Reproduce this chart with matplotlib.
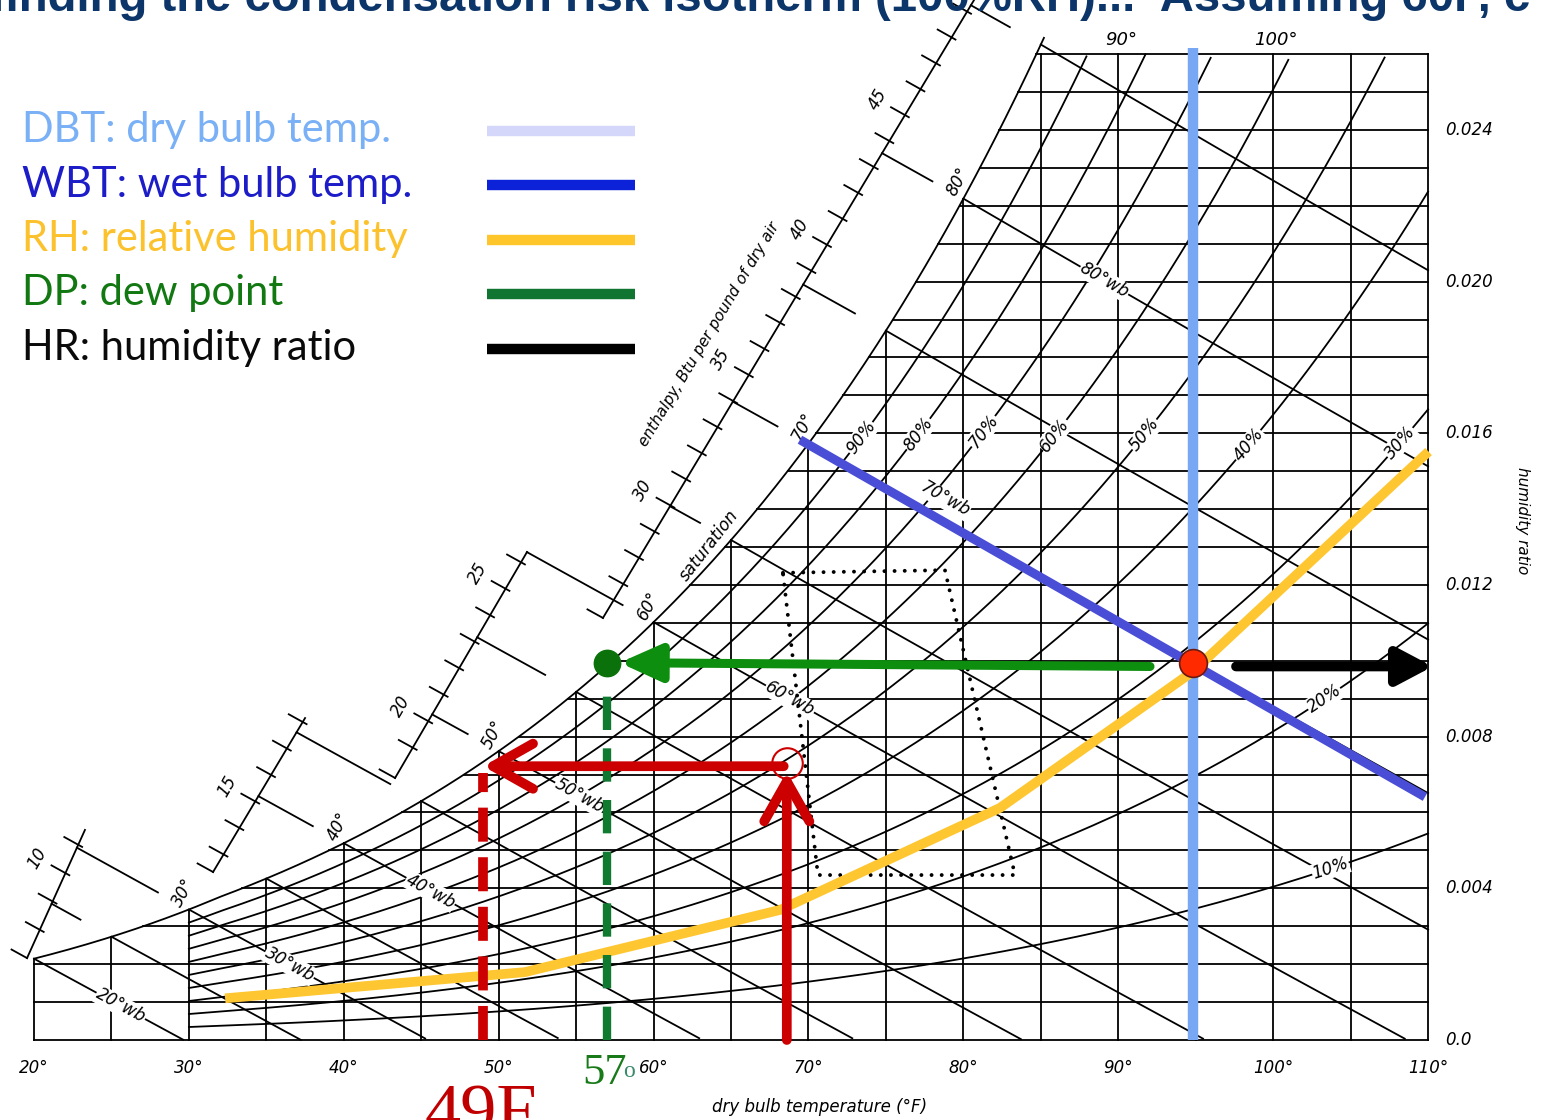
import numpy as np
import matplotlib
matplotlib.use("Agg")
import matplotlib.pyplot as plt
from matplotlib.lines import Line2D

# ---------------- chart grid (dry bulb degF, humidity ratio lb/lb) ----------------
dbt_lines = [20, 25, 30, 35, 40, 45, 50, 55, 60, 65, 70, 75, 80, 85, 90, 95, 100, 105, 110]
hr_lines = [0.001, 0.002, 0.003, 0.004, 0.005, 0.006, 0.007, 0.008, 0.009, 0.010,
            0.011, 0.012, 0.013, 0.014, 0.015, 0.016, 0.017, 0.018, 0.019, 0.020,
            0.021, 0.022, 0.023, 0.024, 0.025, 0.026]
wb_lines = [20, 25, 30, 35, 40, 45, 50, 55, 60, 65, 70, 75, 80, 85]
rh_lines = [0.1, 0.2, 0.3, 0.4, 0.5, 0.6, 0.7, 0.8, 0.9]

dbt_tick_vals = [20, 30, 40, 50, 60, 70, 80, 90, 100, 110]
hr_tick_vals = [0.024, 0.020, 0.016, 0.012, 0.008, 0.004, 0.0]
hr_tick_text = ["0.024", "0.020", "0.016", "0.012", "0.008", "0.004", "0.0"]

sat_labels = [30, 40, 50, 60, 70, 80]
top_labels = [90, 100]
wb_label_vals = [20, 30, 40, 50, 60, 70, 80]
wb_label_dbt = [25.6, 36.5, 45.6, 55.2, 68.8, 78.8, 89.1]
wb_label_lift = [0, 0, 0, 0, 0, 16, 0]          # points, 70°wb sits above the blue line
rh_label_vals = [90, 80, 70, 60, 50, 40, 30, 20, 10]
rh_label_dbt = [73.4, 77.1, 81.3, 85.9, 91.7, 98.4, 108.2, 103.3, 103.7]

enthalpy_ticks = list(range(6, 53))
enthalpy_labels = [10, 15, 20, 25, 30, 35, 40, 45]
# enthalpy scale is drawn in four broken pieces: (dbt, hr) at both ends
scale_T = [(19.55, 23.29), (31.56, 37.50), (43.31, 51.83), (56.73, 81.46)]
scale_W = [(0.00216, 0.00554), (0.00443, 0.00849), (0.00691, 0.01287), (0.01113, 0.02795)]

# ---------------- overlay ----------------
state_dbt = 94.8
state_hr = 0.00995
dew_point = 57
wbt_T = [69.45, 109.8]
wbt_W = [0.01583, 0.00641]
rh_T = [32.65, 51.7, 68.16, 82.36, 94.76, 109.8]
rh_W = [0.00111, 0.00179, 0.00343, 0.00612, 0.0097, 0.01543]
comfort_T = [68.35, 78.81, 83.33, 70.61, 68.35]
comfort_W = [0.01232, 0.01239, 0.00435, 0.00435, 0.01232]
surf_dbt = 68.6
surf_hr = 0.0073
surf_dew = 49

legend_items = ["DBT: dry bulb temp.", "WBT: wet bulb temp.", "RH: relative humidity",
                "DP: dew point", "HR: humidity ratio"]
legend_text_col = ["#7ab0f5", "#1c1cc8", "#fcc22d", "#127812", "#0a0a0a"]
legend_line_col = ["#d5d7fa", "#0b22d8", "#ffc62c", "#0f7530", "#000000"]

P_ATM = 101.325


def p_sat(t):
    tc = (np.asarray(t, dtype=float) - 32) / 1.8
    water = 0.61094 * np.exp(17.625 * tc / (tc + 243.04))
    ice = 0.61115 * np.exp(22.452 * tc / (272.55 + tc))
    return np.where(tc < 0, ice, water)


def w_sat(t, rh=1.0):
    ps = rh * p_sat(t)
    return 0.622 * ps / (P_ATM - ps)


def w_wb(t, twb):
    ws = w_sat(twb)
    return ((1093 - 0.556 * twb) * ws - 0.240 * (t - twb)) / (1093 + 0.444 * t - twb)


def w_enth(t, h):
    return (h - 0.240 * t) / (1061 + 0.444 * t)


def h_sat(t):
    return 0.240 * t + w_sat(t) * (1061 + 0.444 * t)


fig = plt.figure(figsize=(15.52, 11.2), dpi=100)
ax = fig.add_axes([0, 0, 1, 1])
ax.set_xlim(17.805, 118.0)
ax.set_ylim(-0.00211, 0.027426)
ax.axis("off")

LW = 1.3
K = "black"
hand = dict(family="DejaVu Sans", style="italic", color="black")
W_TOP = 0.026

tt = np.linspace(20, 110, 1000)
ws_tt = w_sat(tt)

# saturation curve
ts = np.linspace(20, 85.2, 400)
ax.plot(ts, w_sat(ts), color=K, lw=LW)

# dry bulb verticals
for t in dbt_lines:
    ax.plot([t, t], [0, min(float(w_sat(t)), W_TOP)], color=K, lw=LW)

# humidity ratio horizontals
ax.plot([20, 110], [0, 0], color=K, lw=LW)
for w in hr_lines:
    t0 = max(20.0, float(np.interp(w, ws_tt, tt)))
    ax.plot([t0, 110], [w, w], color=K, lw=LW)

# wet bulb lines
for twb in wb_lines:
    t = np.linspace(twb, 110, 300)
    w = w_wb(t, twb)
    ok = w >= 0
    ax.plot(t[ok], w[ok], color=K, lw=LW)

# relative humidity curves
for rh in rh_lines:
    t = np.linspace(30, 110, 400)
    w = w_sat(t, rh)
    ok = w <= W_TOP
    ax.plot(t[ok], w[ok], color=K, lw=LW)


# enthalpy scale
def scale_point(h, k):
    s = np.linspace(0, 1, 600)
    T = scale_T[k][0] + s * (scale_T[k][1] - scale_T[k][0])
    W = scale_W[k][0] + s * (scale_W[k][1] - scale_W[k][0])
    f = W - w_enth(T, h)
    idx = np.where(np.diff(np.sign(f)) != 0)[0]
    if len(idx) == 0:
        return None
    i = idx[0]
    s0 = s[i] - f[i] * (s[i + 1] - s[i]) / (f[i + 1] - f[i])
    return scale_T[k][0] + s0 * (scale_T[k][1] - scale_T[k][0])


for k in range(len(scale_T)):
    ax.plot(scale_T[k], scale_W[k], color=K, lw=LW, clip_on=False)
    # little foot at the lower end of each piece
    t_end, w_end = scale_T[k][0], scale_W[k][0]
    h_end = 0.240 * t_end + w_end * (1061 + 0.444 * t_end)
    tf = np.array([t_end - 1.0, t_end])
    ax.plot(tf, w_enth(tf, h_end), color=K, lw=LW)
    for h in enthalpy_ticks:
        ti = scale_point(h, k)
        if ti is None or ti - t_end < 0.6:
            continue
        tk = np.array([ti - 0.9, ti + 0.25])
        ax.plot(tk, w_enth(tk, h), color=K, lw=LW)
        if h in enthalpy_labels:
            ax.annotate(str(h), (ti, float(w_enth(ti, h))), xytext=(-20, 11),
                        textcoords="offset points", rotation=60, ha="center",
                        va="center", fontsize=12, **hand)
    # long guide lines: wet bulb lines carried out to the scale
    for twb in wb_lines:
        h = float(h_sat(twb))
        ti = scale_point(h, k)
        if ti is None or ti > twb - 2.8:
            continue
        tg = np.linspace(ti, twb - 2.0, 20)
        ax.plot(tg, w_enth(tg, h), color=K, lw=LW)


def screen_angle(t0, w0, t1, w1):
    (x0, y0), (x1, y1) = ax.transData.transform([(t0, w0), (t1, w1)])
    return np.degrees(np.arctan2(y1 - y0, x1 - x0))


# labels on the chart
for t in dbt_tick_vals:
    ax.annotate(f"{t}°", (t, 0), xytext=(0, -20), textcoords="offset points",
                ha="center", va="center", fontsize=12, **hand)
ax.annotate("dry bulb temperature (°F)", (70.7, 0), xytext=(0, -48),
            textcoords="offset points", ha="center", va="center", fontsize=12, **hand)
for w, s in zip(hr_tick_vals, hr_tick_text):
    ax.annotate(s, (110, w), xytext=(12, 0), textcoords="offset points",
                ha="left", va="center", fontsize=12, **hand)
ax.annotate("humidity ratio", (110, 0.0137), xytext=(68, 0), textcoords="offset points",
            ha="center", va="center", rotation=-90, fontsize=11, **hand)

for t in sat_labels:
    ax.annotate(f"{t}°", (t, float(w_sat(t))), xytext=(-4, 12), textcoords="offset points",
                ha="center", va="center", rotation=62, fontsize=12, **hand)
for t in top_labels:
    ax.annotate(f"{t}°", (t, W_TOP), xytext=(2, 4), textcoords="offset points",
                ha="center", va="bottom", fontsize=13, **hand)

for v, t, lift in zip(wb_label_vals, wb_label_dbt, wb_label_lift):
    w = float(w_wb(t, v))
    ang = screen_angle(t - 1, float(w_wb(t - 1, v)), t + 1, float(w_wb(t + 1, v)))
    ax.annotate(f"{v}°wb", (t, w), xytext=(0, lift), textcoords="offset points",
                rotation=ang, ha="center", va="center", fontsize=12,
                rotation_mode="anchor", bbox=dict(fc="white", ec="none", pad=0.5), **hand)

for v, t in zip(rh_label_vals, rh_label_dbt):
    w = float(w_sat(t, v / 100))
    ang = screen_angle(t - 0.5, float(w_sat(t - 0.5, v / 100)), t + 0.5, float(w_sat(t + 0.5, v / 100)))
    ax.text(t, w, f"{v}%", rotation=ang, ha="center", va="center", fontsize=12,
            rotation_mode="anchor", bbox=dict(fc="white", ec="none", pad=0.5), **hand)

ax.text(63.6, 0.01303, "saturation", rotation=52, ha="center", va="center", fontsize=12, **hand)
ax.text(63.6, 0.01860, "enthalpy, Btu per pound of dry air", rotation=59, ha="center",
        va="center", fontsize=11, **hand)

# ---------------- overlay ----------------
ax.plot([state_dbt, state_dbt], [0, 0.02616], color="#78a8f4", lw=7.5, zorder=5,
        solid_capstyle="butt")
ax.plot(comfort_T, comfort_W, color=K, lw=2.8, linestyle=(0, (0.01, 2.6)),
        dash_capstyle="round", zorder=4)
ax.plot(rh_T, rh_W, color="#fec631", lw=7, zorder=6, solid_joinstyle="round")
ax.plot(wbt_T, wbt_W, color="#4a4ed6", lw=6.5, zorder=6, solid_capstyle="butt")

# dew point of the room air
ax.plot([dew_point, dew_point], [0, 0.0095], color="#0f7a30", lw=6,
        linestyle=(0, (4.0, 2.2)), zorder=6)
ax.annotate("", xy=(dew_point + 0.8, state_hr), xytext=(92.05, 0.00985),
            arrowprops=dict(arrowstyle="-|>,head_length=1.0,head_width=0.45",
                            mutation_scale=25, color="#0e8e0e", lw=6.5,
                            shrinkA=0, shrinkB=0), zorder=7)
ax.plot(dew_point, 0.00994, "o", ms=19, color="#0b720b", zorder=8)
ax.annotate("", xy=(110.3, 0.00985), xytext=(97.6, 0.00985),
            arrowprops=dict(arrowstyle="-|>,head_length=0.85,head_width=0.45",
                            mutation_scale=25, color="black", lw=7,
                            shrinkA=0, shrinkB=0), zorder=7)
ax.plot(state_dbt, state_hr, "o", ms=20, mfc="#ff2a00", mec="#6a1a10", mew=1.2, zorder=9)

# surface temperature / dew point
ax.plot([surf_dew, surf_dew], [0, 0.00705], color="#cc0000", lw=7,
        linestyle=(0, (3.5, 1.6)), zorder=6)
ax.annotate("", xy=(surf_dew, 0.00722), xytext=(surf_dbt - 0.2, 0.00722),
            arrowprops=dict(arrowstyle="->,head_length=1.15,head_width=0.65",
                            mutation_scale=25, color="#cc0000", lw=7,
                            shrinkA=0, shrinkB=0, capstyle="round"), zorder=7)
ax.annotate("", xy=(surf_dbt, 0.00708), xytext=(surf_dbt, 0),
            arrowprops=dict(arrowstyle="->,head_length=1.15,head_width=0.65",
                            mutation_scale=25, color="#cc0000", lw=7,
                            shrinkA=0, shrinkB=0, capstyle="round"), zorder=7)
ax.plot(surf_dbt, surf_hr, "o", ms=22, mfc="none", mec="#cc0000", mew=1.5, zorder=8)

ax.annotate("57", (dew_point, 0), xytext=(-2, -24), textcoords="offset points",
            ha="center", va="center", fontsize=32, color="#197a19",
            family="Liberation Serif")
ax.annotate("o", (dew_point, 0), xytext=(16, -23), textcoords="offset points",
            ha="center", va="center", fontsize=17, color="#3a8a6a",
            family="Liberation Serif")
ax.annotate("49F", (45.24, 0), xytext=(0, -67), textcoords="offset points",
            ha="left", va="baseline", fontsize=52, color="#c00000",
            family="Liberation Serif")

# title (cut off by the slide edge)
ax.text(17.16, 0.02714, "finding the condensation risk isotherm (100%RH)...  Assuming 60F, c",
        ha="left", va="baseline", fontsize=34, fontweight="bold", color="#0c356a",
        family="Liberation Sans")

# legend
for i, (lab, tc, lc) in enumerate(zip(legend_items, legend_text_col, legend_line_col)):
    yy = 1 - (130 + 54.5 * i) / 1120
    fig.text(22 / 1552, yy, lab, color=tc, fontsize=30, family="Lato", va="center", ha="left")
    fig.add_artist(Line2D([487 / 1552, 635 / 1552], [yy - 0.5 / 1120] * 2, lw=7.5, color=lc,
                          solid_capstyle="butt"))

fig.savefig("out.png", dpi=100)
